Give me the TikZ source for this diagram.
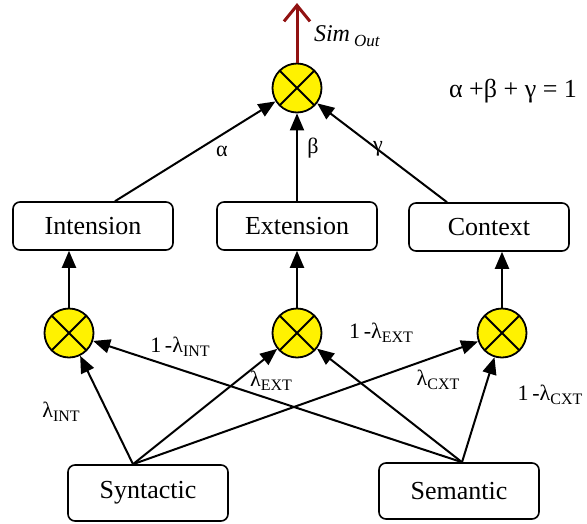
\documentclass[tikz,border=0pt]{standalone}
\usepackage{fontspec}
\setmainfont{Liberation Serif}
\usetikzlibrary{arrows.meta}
\definecolor{darkred}{RGB}{145,18,18}
\newcommand{\lsub}[1]{\raisebox{-0.35ex}{\fontsize{16}{16}\selectfont #1}}

\tikzset{
  mult/.style={circle, draw, line width=1.8pt, fill=yellow, minimum size=49pt, inner sep=0pt,
    path picture={\draw[line width=1.8pt]
      (path picture bounding box.north west) -- (path picture bounding box.south east)
      (path picture bounding box.north east) -- (path picture bounding box.south west);}},
  box/.style={draw, rounded corners=7pt, line width=1.6pt, minimum width=160pt,
    minimum height=48pt, font=\fontsize{26}{30}\selectfont},
  lab/.style={inner sep=0pt, font=\fontsize{22}{24}\selectfont}
}

\begin{document}
\begin{tikzpicture}[x=1pt,y=-1pt,>={Triangle[length=17pt,width=14pt]},line width=2pt]
  \useasboundingbox (0,0) rectangle (587,523);
  \node[mult] (m0) at (297,88)  {};
  \node[mult] (m1) at (69,333)  {};
  \node[mult] (m2) at (297,333) {};
  \node[mult] (m3) at (502,333) {};
  \node[box] (i) at (93,226)  {Intension};
  \node[box] (e) at (297,226) {Extension};
  \node[box] (c) at (489,227) {Context};
  \node[box, minimum height=56pt] (s) at (148,493) {Syntactic};
  \node[box, minimum height=56pt] (t) at (459,491) {Semantic};
  \coordinate (i1) at ([xshift=22pt]i.north);
  \coordinate (c1) at ([xshift=-42pt]c.north);
  \coordinate (s1) at ([xshift=-15pt]s.north);
  \coordinate (t1) at ([xshift=3pt]t.north);
  \coordinate (out) at (297,3);
  % output
  \draw[darkred, line width=3pt, -{Straight Barb[length=16pt,width=26pt]}] (m0) -- (out);
  \node[anchor=west, inner sep=0pt, font=\fontsize{24}{26}\selectfont\itshape] (so) at (313,36)
    {Sim\,\raisebox{-0.4ex}{\fontsize{17}{17}\selectfont Out}};
  \node[inner sep=0pt, font=\fontsize{26}{28}\selectfont] (eq) at (513,91) {α +β + γ = 1};
  % upper layer
  \draw[->] (i1) -- (m0);
  \draw[->] (e) -- (m0);
  \draw[->] (c1) -- (m0);
  \draw[->] (m1) -- (m1 |- i.south);
  \draw[->] (m2) -- (e);
  \draw[->] (m3) -- (m3 |- c.south);
  \node[lab] (la) at (222,151) {α};
  \node[lab] (lb) at (313,148) {β};
  \node[lab] (lg) at (378,149) {γ};
  % lower layer
  \draw[->] (s1) -- (m1);
  \draw[->] (s1) -- (m2);
  \draw[->] (s1) -- (m3);
  \draw[->] (t1) -- (m1);
  \draw[->] (t1) -- (m2);
  \draw[->] (t1) -- (m3);
  \node[lab] (l1) at (61,412)  {λ\lsub{INT}};
  \node[lab] (l2) at (180,347) {1\,-λ\lsub{INT}};
  \node[lab] (l3) at (271,381) {λ\lsub{EXT}};
  \node[lab] (l4) at (381,333) {1\,-λ\lsub{EXT}};
  \node[lab] (l5) at (438,380) {λ\lsub{CXT}};
  \node[lab] (l6) at (550,395) {1\,-λ\lsub{CXT}};
\end{tikzpicture}
\end{document}
